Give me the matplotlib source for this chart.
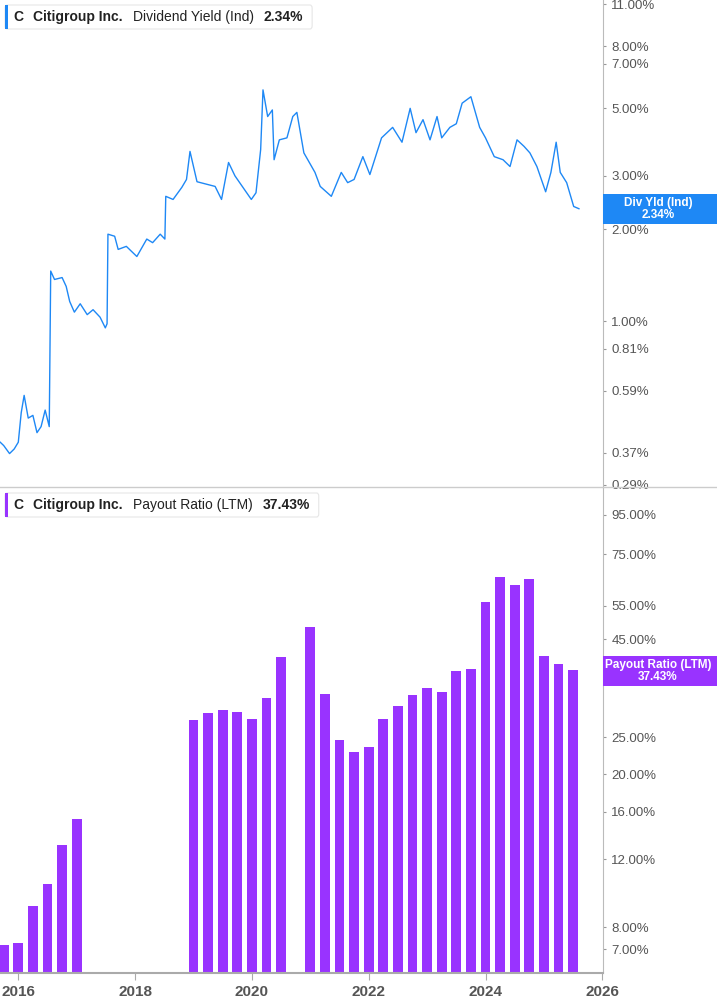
import matplotlib
matplotlib.use('Agg')
import numpy as np
from matplotlib import pyplot as plt
from matplotlib import font_manager

names = {f.name for f in font_manager.fontManager.ttflist}
NARROW = 'Liberation Sans Narrow' if 'Liberation Sans Narrow' in names else 'Liberation Sans'
plt.rcParams['font.family'] = NARROW

# dividend yield (%), decimal years
yld_t = [2015.69, 2015.75, 2015.85, 2015.93, 2016.0, 2016.05, 2016.10, 2016.17, 2016.25, 2016.32,
         2016.39, 2016.46, 2016.53, 2016.555, 2016.62, 2016.75, 2016.82, 2016.88, 2016.96, 2017.06,
         2017.18, 2017.28, 2017.40, 2017.49, 2017.52, 2017.535, 2017.65, 2017.71, 2017.85, 2018.03,
         2018.2, 2018.3, 2018.43, 2018.51, 2018.525, 2018.65, 2018.8, 2018.88, 2018.94, 2019.06,
         2019.37, 2019.48, 2019.6, 2019.71, 2019.99, 2020.07, 2020.15, 2020.19, 2020.27, 2020.35,
         2020.38, 2020.47, 2020.6, 2020.7, 2020.77, 2020.89, 2021.08, 2021.17, 2021.36, 2021.53,
         2021.64, 2021.75, 2021.9, 2022.02, 2022.22, 2022.41, 2022.57, 2022.71, 2022.81, 2022.93,
         2023.05, 2023.17, 2023.25, 2023.39, 2023.5, 2023.6, 2023.75, 2023.9, 2024.0, 2024.15,
         2024.3, 2024.42, 2024.54, 2024.66, 2024.76, 2024.88, 2025.03, 2025.12, 2025.21, 2025.28,
         2025.39, 2025.51, 2025.6]
yld_v = [0.40, 0.39, 0.367, 0.38, 0.40, 0.50, 0.57, 0.48, 0.49, 0.43,
         0.45, 0.51, 0.45, 1.46, 1.37, 1.39, 1.30, 1.16, 1.07, 1.14,
         1.05, 1.09, 1.03, 0.95, 0.98, 1.93, 1.90, 1.72, 1.76, 1.63,
         1.86, 1.81, 1.93, 1.86, 2.57, 2.51, 2.75, 2.92, 3.61, 2.87,
         2.77, 2.51, 3.32, 3.00, 2.51, 2.64, 3.66, 5.75, 4.70, 4.94,
         3.39, 3.94, 4.00, 4.70, 4.85, 3.57, 3.08, 2.77, 2.57, 3.08,
         2.85, 2.92, 3.47, 3.03, 4.00, 4.33, 3.87, 5.00, 4.16, 4.59,
         3.94, 4.70, 4.00, 4.33, 4.45, 5.20, 5.46, 4.33, 4.00, 3.47,
         3.39, 3.22, 3.94, 3.75, 3.57, 3.22, 2.66, 3.08, 3.87, 3.08,
         2.85, 2.38, 2.34]

# payout ratio (LTM, %) by quarter end
pay_t = [2015.75, 2016.0, 2016.25, 2016.5, 2016.75, 2017.0,
         2019.0, 2019.25, 2019.5, 2019.75, 2020.0, 2020.25, 2020.5,
         2021.0, 2021.25, 2021.5, 2021.75, 2022.0, 2022.25, 2022.5, 2022.75,
         2023.0, 2023.25, 2023.5, 2023.75, 2024.0, 2024.25, 2024.5, 2024.75,
         2025.0, 2025.25, 2025.5]
pay_v = [7.17, 7.25, 9.07, 10.35, 13.1, 15.3,
         27.7, 28.9, 29.5, 29.0, 27.9, 31.7, 40.4,
         48.3, 32.4, 24.6, 22.8, 23.6, 27.9, 30.2, 32.2,
         33.6, 32.8, 37.1, 37.6, 56.3, 65.3, 62.5, 64.7,
         40.8, 38.9, 37.43]

yld_ticks = [11, 8, 7, 5, 3, 2, 1, 0.81, 0.59, 0.37, 0.29]
pay_ticks = [95, 75, 55, 45, 35, 25, 20, 16, 12, 8, 7]
years = [2016, 2018, 2020, 2022, 2024, 2026]

BLUE = '#1e88f5'
PURPLE = '#9933ff'
GREY = '#555555'
DARK = '#222222'

fig = plt.figure(figsize=(7.17, 10.05), dpi=100)
W, H = 717, 1005
xr = 603 / W
ax1 = fig.add_axes([0, 1 - 487 / H, xr, 487 / H])
ax2 = fig.add_axes([0, 1 - 973 / H, xr, (973 - 488) / H])

x0 = 2016 + (0 - 18.3) / 58.4
x1 = 2016 + (603 - 18.3) / 58.4

ax1.plot(yld_t, yld_v, color=BLUE, lw=1.0)
ax1.set_yscale('log')
ax1.set_ylim(0.285, 11.35)
ax1.set_xlim(x0, x1)

ax2.bar(pay_t, pay_v, width=0.17, color=PURPLE, bottom=0.01)
ax2.set_yscale('log')
ax2.set_ylim(6.07, 111.6)
ax2.set_xlim(x0, x1)

for ax, ticks in ((ax1, yld_ticks), (ax2, pay_ticks)):
    ax.yaxis.tick_right()
    ax.set_yticks(ticks)
    ax.set_yticklabels(['%.2f%%' % t for t in ticks])
    ax.yaxis.set_minor_locator(matplotlib.ticker.NullLocator())
    ax.tick_params(axis='y', length=2, color='#999999', labelcolor=GREY, labelsize=9.5, pad=4)
    for s in ('top', 'left', 'bottom'):
        ax.spines[s].set_visible(False)
    ax.spines['right'].set_color('#bbbbbb')
    ax.set_facecolor('none')

ax1.set_xticks([])
ax2.set_xticks(years)
ax2.set_xticklabels([str(y) for y in years], fontweight='bold')
ax2.tick_params(axis='x', length=5, color='#aaaaaa', labelcolor=GREY, labelsize=11)
ax2.spines['bottom'].set_visible(True)
ax2.spines['bottom'].set_color('#aaaaaa')
ax2.spines['bottom'].set_linewidth(1.5)

# separator line
fig.add_artist(plt.Line2D([0, 1], [1 - 487.5 / H, 1 - 487.5 / H], color='#cccccc', lw=1))

renderer = fig.canvas.get_renderer()

# legend boxes: texts laid out one after another
def legend_box(y_top, metric, value, color):
    yc = 1 - (y_top + 12) / H
    x = 13
    end = x
    for txt, bold, gap in (('C', True, 10), ('Citigroup Inc.', True, 10), (metric, False, 10), (value, True, 0)):
        t = fig.text(x / W, yc, txt, fontsize=10, fontweight='bold' if bold else 'normal',
                     va='center', color=DARK, zorder=5)
        bb = t.get_window_extent(renderer)
        end = x + bb.width
        x = end + gap
    w = end + 9 - 5
    yb = 1 - (y_top + 24) / H
    fig.add_artist(matplotlib.patches.FancyBboxPatch((5 / W, yb), w / W, 24 / H,
                   boxstyle='round,pad=0,rounding_size=0.003', fc='white', ec='#e6e6e6', lw=0.8, zorder=1))
    fig.add_artist(matplotlib.patches.Rectangle((5 / W, yb), 3 / W, 24 / H, fc=color, ec='none', zorder=2))

legend_box(5, 'Dividend Yield (Ind)', '2.34%', BLUE)
legend_box(493, 'Payout Ratio (LTM)', '37.43%', PURPLE)

# right tags
fig.add_artist(matplotlib.patches.Rectangle((603 / W, 1 - 224 / H), 114 / W, 30 / H, fc=BLUE, ec='none'))
fig.text(658 / W, 1 - 209 / H, 'Div Yld (Ind)\n2.34%', color='white', fontsize=8.5, fontweight='bold',
         ha='center', va='center', linespacing=1.1)
fig.add_artist(matplotlib.patches.Rectangle((603 / W, 1 - 686 / H), 114 / W, 30 / H, fc=PURPLE, ec='none'))
fig.text(658 / W, 1 - 671 / H, 'Payout Ratio (LTM)\n37.43%', color='white', fontsize=8.5, fontweight='bold',
         ha='center', va='center', linespacing=1.1)

fig.savefig('out.png', dpi=100)
